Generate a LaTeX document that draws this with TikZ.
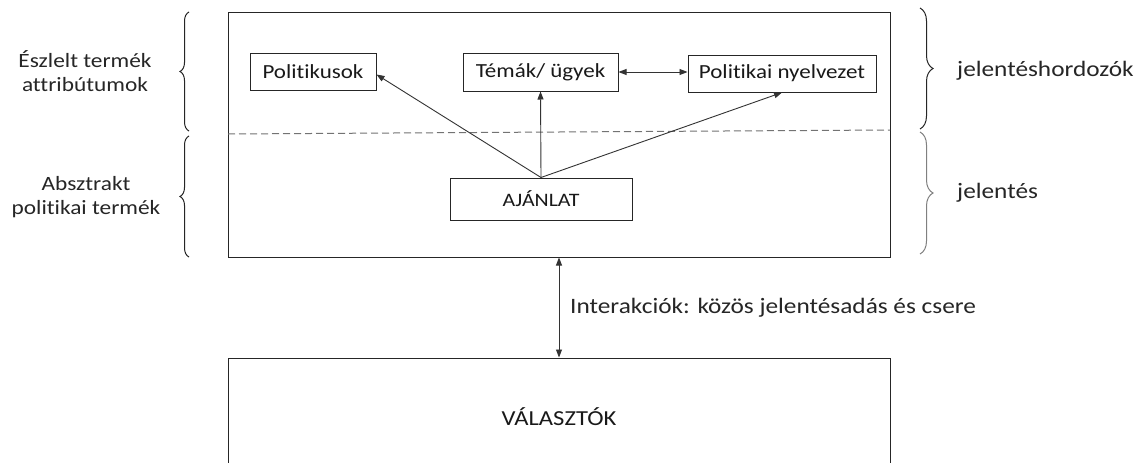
\documentclass[tikz,border=0pt]{standalone}
\usepackage{fontspec}
\setmainfont{Carlito}[FakeStretch=1.15, Ligatures=NoCommon]
\usetikzlibrary{arrows.meta,decorations.pathreplacing,calc}
\newcommand{\fsA}{\fontsize{20}{24}\selectfont}
\newcommand{\fsB}{\fontsize{22}{25}\selectfont}
\newcommand{\fsC}{\fontsize{19}{24}\selectfont}
\newcommand{\fsD}{\fontsize{21.4}{25}\selectfont}
\newcommand{\fsE}{\fontsize{20.3}{24}\selectfont}
\begin{document}
\begin{tikzpicture}[x=1pt,y=-1pt,
  bx/.style={draw=black!85, line width=1pt, inner sep=0pt, font=\fsA, text=black!90},
  conn/.style={draw=black!80, line width=0.9pt, -{Triangle[length=8pt,width=6pt]}},
  dconn/.style={draw=black!80, line width=0.9pt, {Triangle[length=8pt,width=6pt]}-{Triangle[length=8pt,width=6pt]}},
  lbl/.style={font=\fsB, text=black!85, inner sep=0pt, align=center},
  brc/.style={draw=black!85, line width=1pt, decorate, decoration={brace, amplitude=#1}}]
\useasboundingbox (0,0) rectangle (1146,463);
\fill[white] (0,0) rectangle (1146,463);
\clip (0,0) rectangle (1146,463);

% big boxes
\node[bx, minimum width=662pt, minimum height=245pt] (main) at (559,134.5) {};
\node[bx, minimum width=662pt, minimum height=118pt, font=\fsD] (vote) at (559,417) {VÁLASZTÓK};

% dashed separator
\coordinate (dl) at (228,134);
\coordinate (dr) at (890,130);
\draw[draw=black!55, line width=1pt, dash pattern=on 7pt off 4pt] (dl) -- (dr);

% inner boxes
\node[bx, minimum width=126pt, minimum height=37pt] (pol) at (313,71.5) {Politikusok};
\node[bx, minimum width=155pt, minimum height=38pt] (tem) at (540.5,72) {Témák/ ügyek};
\node[bx, minimum width=188pt, minimum height=37pt] (nyel) at (782,73.5) {Politikai nyelvezet};
\node[bx, minimum width=182pt, minimum height=42pt, font=\fsC] (aj) at (541,199) {AJÁNLAT};

% connectors
\draw[conn] (aj.north) -- ([yshift=-3pt]pol.east);
\draw[conn] (aj.north) -- (tem.south);
\draw[conn] (aj.north) -- (nyel.south);
\draw[dconn] (tem.east) -- (tem.east -| nyel.west);
\draw[dconn] (main.south) -- (vote.north);

% braces left
\coordinate (lb1a) at (189,131);
\coordinate (lb1b) at (189,12);
\coordinate (lb2a) at (189,257);
\coordinate (lb2b) at (189,136);
\draw[brc=9pt] (lb1a) -- (lb1b);
\draw[brc=9pt] (lb2a) -- (lb2b);
% braces right
\coordinate (rb1a) at (920,8);
\coordinate (rb1b) at (920,129);
\coordinate (rb2a) at (920,132);
\coordinate (rb2b) at (920,254);
\draw[brc=13pt] (rb1a) -- (rb1b);
\draw[brc=13pt, draw=black!50] (rb2a) -- (rb2b);

% labels
\node[lbl, font=\fsE] (l1) at (85,71) {Észlelt termék\\attribútumok};
\node[lbl, font=\fsE] (l2) at (86,197) {Absztrakt\\politikai termék};
\node[lbl, anchor=west] (r1) at (957,71) {jelentéshordozók};
\node[lbl, anchor=west] (r2) at (957,193) {jelentés};
\node[lbl, anchor=west] (int) at (570,308) {Interakciók: közös jelentésadás és csere};
\end{tikzpicture}
\end{document}
